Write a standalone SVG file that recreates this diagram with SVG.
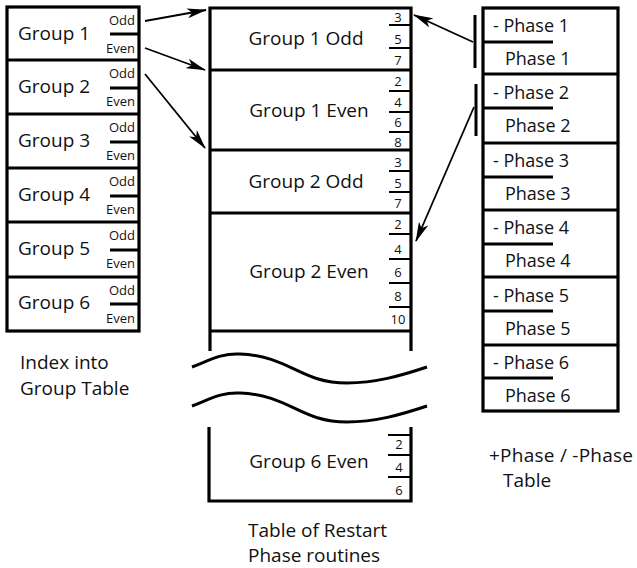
<svg xmlns="http://www.w3.org/2000/svg" width="637" height="568" viewBox="0 0 637 568">
  <defs>
    <style>
      text { font-family: "Open Sans", "Noto Sans", sans-serif; fill: #111; }
      .lbl { font-size: 19px; }
      .ph { font-size: 18px; }
      .sm { font-size: 13px; }
      .num { font-size: 13px; text-anchor: middle; }
      .box { fill: #fff; stroke: #000; stroke-width: 3.2; }
      .thick { stroke: #000; stroke-width: 3.2; fill: none; }
      .mid { stroke: #000; stroke-width: 3; fill: none; }
      .tick { stroke: #000; stroke-width: 2; fill: none; }
      .wave { stroke: #000; stroke-width: 3; fill: none; }
      .conn { stroke: #000; stroke-width: 1.8; fill: none; marker-end: url(#head); }
    </style>
    <marker id="head" viewBox="0 0 20 10" refX="19" refY="5" markerWidth="20" markerHeight="10" markerUnits="userSpaceOnUse" orient="auto">
      <path d="M0,0 L20,5 L0,10 L5,5 z" fill="#000"/>
    </marker>
  </defs>

  <!-- Index into group table -->
  <g id="group-index">
    <rect class="box" x="7" y="7" width="132" height="324"/>
    <path class="thick" d="M7,60 H139 M7,114 H139 M7,168 H139 M7,222 H139 M7,277 H139"/>
    <path class="mid" d="M110,34 H139 M110,88 H139 M110,142 H139 M110,196 H139 M110,250 H139 M110,304 H139"/>
    <g class="lbl">
      <text x="18" y="40">Group 1</text>
      <text x="18" y="93">Group 2</text>
      <text x="18" y="147">Group 3</text>
      <text x="18" y="201">Group 4</text>
      <text x="18" y="255">Group 5</text>
      <text x="18" y="309">Group 6</text>
    </g>
    <g class="sm" text-anchor="end">
      <text x="135" y="25">Odd</text><text x="135" y="53">Even</text>
      <text x="135" y="78">Odd</text><text x="135" y="106">Even</text>
      <text x="135" y="132">Odd</text><text x="135" y="160">Even</text>
      <text x="135" y="186">Odd</text><text x="135" y="214">Even</text>
      <text x="135" y="240">Odd</text><text x="135" y="268">Even</text>
      <text x="135" y="295">Odd</text><text x="135" y="323">Even</text>
    </g>
    <text class="lbl" x="20" y="369">Index into</text>
    <text class="lbl" x="20" y="395">Group Table</text>
  </g>

  <!-- Table of restart phase routines -->
  <g id="restart-table">
    <path class="thick" d="M210,351 V8 H411 V351 M210,70 H411 M210,150 H411 M210,213 H411 M210,331 H411"/>
    <path class="thick" d="M209,427 V501 H411 V427"/>
    <path class="tick" d="M389,25 H411 M389,48 H411 M389,91 H411 M389,112 H411 M389,132 H411 M389,171 H411 M389,192 H411 M389,234 H411 M389,259 H411 M389,283 H411 M389,307 H411 M388,435 H411 M388,455 H411 M388,477 H411"/>
    <g class="lbl" text-anchor="middle">
      <text x="306" y="45">Group 1 Odd</text>
      <text x="309" y="117">Group 1 Even</text>
      <text x="306" y="188">Group 2 Odd</text>
      <text x="309" y="278">Group 2 Even</text>
      <text x="309" y="468">Group 6 Even</text>
    </g>
    <g class="num">
      <text x="398" y="22">3</text><text x="398" y="44">5</text><text x="398" y="65">7</text>
      <text x="398" y="86">2</text><text x="398" y="107">4</text><text x="398" y="127">6</text><text x="398" y="147">8</text>
      <text x="398" y="167">3</text><text x="398" y="188">5</text><text x="398" y="208">7</text>
      <text x="398" y="229">2</text><text x="398" y="254">4</text><text x="398" y="277">6</text><text x="398" y="301">8</text><text x="398" y="324">10</text>
      <text x="399" y="449">2</text><text x="399" y="472">4</text><text x="399" y="495">6</text>
    </g>
    <!-- break marks -->
    <path class="wave" d="M192,367 C210,360 222,353 240,354 C290,356 300,383 347,383 C375,383 400,376 427,367"/>
    <path class="wave" d="M192,406 C210,399 222,392 240,393 C290,395 300,422 347,422 C375,422 400,415 427,406"/>
    <text class="lbl" x="248" y="537">Table of Restart</text>
    <text class="lbl" x="248" y="562">Phase routines</text>
  </g>

  <!-- +Phase / -Phase table -->
  <g id="phase-table">
    <rect class="box" x="483" y="8" width="135" height="403"/>
    <path class="thick" d="M483,74 H618 M483,143 H618 M483,210 H618 M483,277 H618 M483,345 H618"/>
    <path class="mid" d="M483,42 H553 M483,108 H553 M483,177 H553 M483,244 H553 M483,311 H553 M483,378 H553"/>
    <g class="ph">
      <text x="493" y="32">- Phase 1</text><text x="505" y="65">Phase 1</text>
      <text x="493" y="99">- Phase 2</text><text x="505" y="132">Phase 2</text>
      <text x="493" y="167">- Phase 3</text><text x="505" y="200">Phase 3</text>
      <text x="493" y="234">- Phase 4</text><text x="505" y="267">Phase 4</text>
      <text x="493" y="302">- Phase 5</text><text x="505" y="335">Phase 5</text>
      <text x="493" y="369">- Phase 6</text><text x="505" y="402">Phase 6</text>
    </g>
    <text class="lbl" x="489" y="462" textLength="144">+Phase / -Phase</text>
    <text class="lbl" x="503" y="487">Table</text>
  </g>

  <!-- bars the phase pointers start from -->
  <g id="phase-bars">
    <path class="mid" d="M475,15 V68 M476,84 V136"/>
  </g>

  <!-- connectors -->
  <g id="connectors">
    <path class="conn" d="M145,21 L206,10"/>
    <path class="conn" d="M145,48 L205,70"/>
    <path class="conn" d="M145,74 L205,148"/>
    <path class="conn" d="M473,42 L414,15"/>
    <path class="conn" d="M474,107 L416,241"/>
  </g>
</svg>
